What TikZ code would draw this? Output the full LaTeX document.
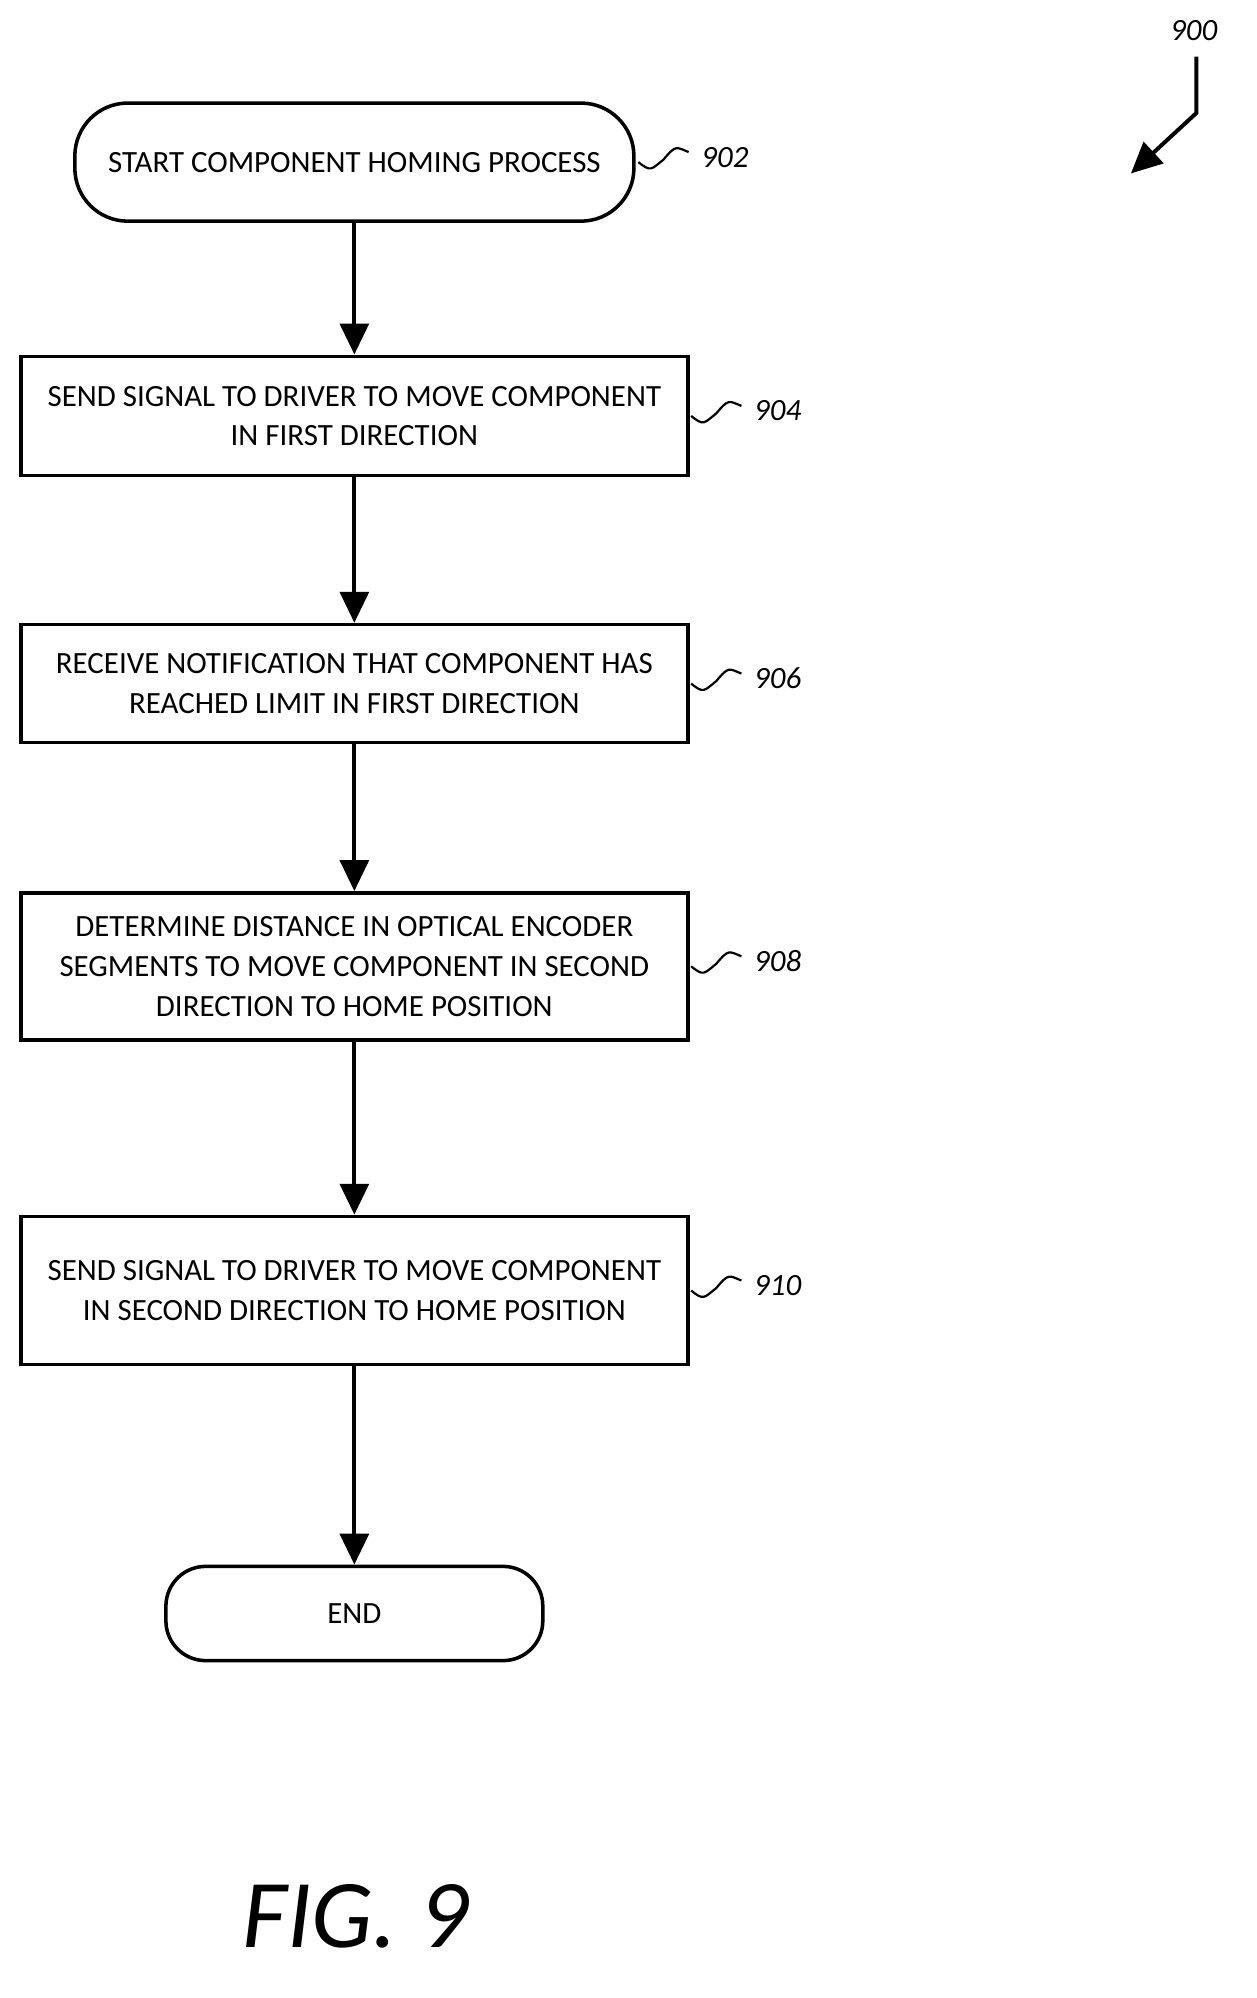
\documentclass[tikz,border=0pt]{standalone}
\usepackage{fontspec}
\setmainfont{Carlito}
\usetikzlibrary{arrows.meta}
\begin{document}
\begin{tikzpicture}[x=0.02cm,y=-0.02cm,
  box/.style={draw,line width=1.6pt,inner sep=0,align=center,font=\fontsize{14}{18}\selectfont},
  term/.style={box,rounded corners=24pt},
  arr/.style={line width=1.8pt,-{Triangle[length=14pt,width=13pt]}},
  lab/.style={font=\fontsize{14}{15}\selectfont\itshape,anchor=west},
  sq/.style={line width=1pt}]
\useasboundingbox (0,0) rectangle (1000,1590);
\node[term,minimum width=8.9cm,minimum height=1.88cm] (s) at (282,129) {START COMPONENT HOMING PROCESS};
\node[box,minimum width=10.62cm,minimum height=1.9cm] (b4) at (282,331) {SEND SIGNAL TO DRIVER TO MOVE COMPONENT\\IN FIRST DIRECTION};
\node[box,minimum width=10.62cm,minimum height=1.88cm] (b6) at (282,544) {RECEIVE NOTIFICATION THAT COMPONENT HAS\\REACHED LIMIT IN FIRST DIRECTION};
\node[box,minimum width=10.62cm,minimum height=2.34cm] (b8) at (282,769) {DETERMINE DISTANCE IN OPTICAL ENCODER\\SEGMENTS TO MOVE COMPONENT IN SECOND\\DIRECTION TO HOME POSITION};
\node[box,minimum width=10.62cm,minimum height=2.36cm] (b10) at (282,1027) {SEND SIGNAL TO DRIVER TO MOVE COMPONENT\\IN SECOND DIRECTION TO HOME POSITION};
\node[term,rounded corners=18pt,minimum width=6cm,minimum height=1.5cm] (e) at (282,1284) {END};
\draw[arr] (s) -- (b4);
\draw[arr] (b4) -- (b6);
\draw[arr] (b6) -- (b8);
\draw[arr] (b8) -- (b10);
\draw[arr] (b10) -- (e);
\foreach \n/\y/\x/\t in {s/129/508/902,b4/331/550/904,b6/544/550/906,b8/769/550/908,b10/1027/550/910}{
  \coordinate (c\t) at (\x,\y);
  \draw[sq] (c\t) .. controls +(10,8) and +(-10,8) .. +(20,-2) .. controls +(10,-12) and +(-10,-4) .. +(40,-8);
  \node[lab] (l\t) at (\x+44,\y-4) {\t};
}
\node[font=\fontsize{14}{15}\selectfont\itshape] (l900) at (950,24) {900};
\coordinate (p1) at (952,45); \coordinate (p2) at (952,90); \coordinate (p3) at (900,138);
\draw[line width=1.8pt,-{Triangle[length=14pt,width=13pt]}] (p1) -- (p2) -- (p3);
\node[font=\fontsize{44}{46}\selectfont\itshape] (fig) at (283,1525) {FIG. 9};
\end{tikzpicture}
\end{document}
